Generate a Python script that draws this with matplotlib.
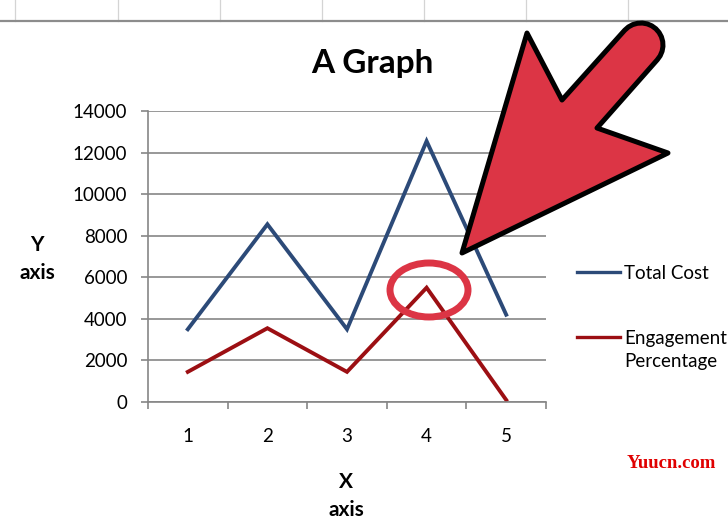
import numpy as np
import matplotlib.pyplot as plt
from matplotlib.lines import Line2D
from matplotlib.patches import Polygon, Ellipse

plt.rcParams['font.family'] = ['Lato', 'DejaVu Sans']

# data
x_labels = ['1', '2', '3', '4', '5']
total_cost = [3500, 8550, 3500, 12550, 4200]
engagement = [1450, 3550, 1450, 5500, 100]
series_names = ['Total Cost', 'Engagement\nPercentage']
y_ticks = [0, 2000, 4000, 6000, 8000, 10000, 12000, 14000]

W, H = 728, 519
fig = plt.figure(figsize=(W / 100, H / 100), dpi=100)


def px(x, y):
    # pixel position (from top-left) -> figure fraction
    return (x / W, 1 - y / H)


# spreadsheet cells at the top
for xv in [15, 118, 220, 322, 424, 526, 628]:
    fig.add_artist(Line2D([xv / W, xv / W], [1, 1 - 21 / H], color='#d4d4d4', lw=0.9))
fig.add_artist(Line2D([0, 1], [1 - 21 / H, 1 - 21 / H], color='#8c8c8c', lw=1.6))

ax = fig.add_axes([148 / W, 1 - 402 / H, 398 / W, 291 / H])
xs = list(range(1, len(x_labels) + 1))
l1, = ax.plot(xs, total_cost, color='#2c4a78', lw=2.8, solid_joinstyle='miter')
l2, = ax.plot(xs, engagement, color='#9c0f13', lw=2.8, solid_joinstyle='miter')

ax.set_xlim(0.5, 5.5)
ax.set_ylim(0, 14000)
ax.set_yticks(y_ticks)
ax.set_yticklabels([str(v) for v in y_ticks], fontsize=13.5)
ax.set_xticks(xs)
ax.set_xticklabels(x_labels, fontsize=13.5)
ax.set_xticks([0.5, 1.5, 2.5, 3.5, 4.5, 5.5], minor=True)
ax.tick_params(axis='x', which='major', length=0, pad=19)
ax.tick_params(axis='x', which='minor', length=5, color='#868686', width=1.2)
ax.tick_params(axis='y', length=5, color='#868686', width=1.2, pad=10)
ax.yaxis.grid(True, color='#868686', lw=1.2)
ax.set_axisbelow(True)
for s in ['top', 'right']:
    ax.spines[s].set_visible(False)
for s in ['left', 'bottom']:
    ax.spines[s].set_color('#868686')
    ax.spines[s].set_linewidth(1.2)

fig.text(372 / W, 1 - 63 / H, 'A Graph', fontsize=24, fontweight='bold', ha='center', va='center')
fig.text(37 / W, 1 - 259 / H, 'Y\naxis', fontsize=15, fontweight='bold', ha='center', va='center',
         linespacing=1.55)
fig.text(346 / W, 1 - 496 / H, 'X\naxis', fontsize=15, fontweight='bold', ha='center', va='center',
         linespacing=1.55)

# legend
for line, name, ly in [(l1, series_names[0], 272), (l2, series_names[1], 337)]:
    fig.add_artist(Line2D([577 / W, 620 / W], [1 - ly / H, 1 - ly / H], color=line.get_color(), lw=2.4))
    fig.text(624 / W, 1 - (ly - 7) / H, name, fontsize=13.5, ha='left', va='top', linespacing=1.45)

# red arrow annotation
c = np.array([641.0, 45.0])
r = 22.0
d = np.array([0.673, -0.740])
n = np.array([0.740, 0.673])
ang = np.linspace(-np.pi / 2, np.pi / 2, 15)
cap = [tuple(c + r * (np.sin(a) * n + np.cos(a) * d)) for a in ang]
arrow_px = [(462, 253), (527, 33), (562, 100)] + cap + [(597, 128), (668, 153)]
arrow = Polygon([px(*p) for p in arrow_px], closed=True, transform=fig.transFigure,
                facecolor='#dc3545', edgecolor='black', lw=3.6, joinstyle='round', zorder=10)
fig.add_artist(arrow)

# red ellipse highlight
ell = Ellipse(px(429, 290), 78 / W, 54 / H, transform=fig.transFigure, fill=False,
              edgecolor='#dc3545', lw=5, zorder=10)
fig.add_artist(ell)

fig.text(716 / W, 1 - 464 / H, 'Yuucn.com', color='#e00000', fontsize=13.5, ha='right', va='center',
         family='Liberation Serif', fontweight='bold')

fig.savefig('out.png', dpi=100)
